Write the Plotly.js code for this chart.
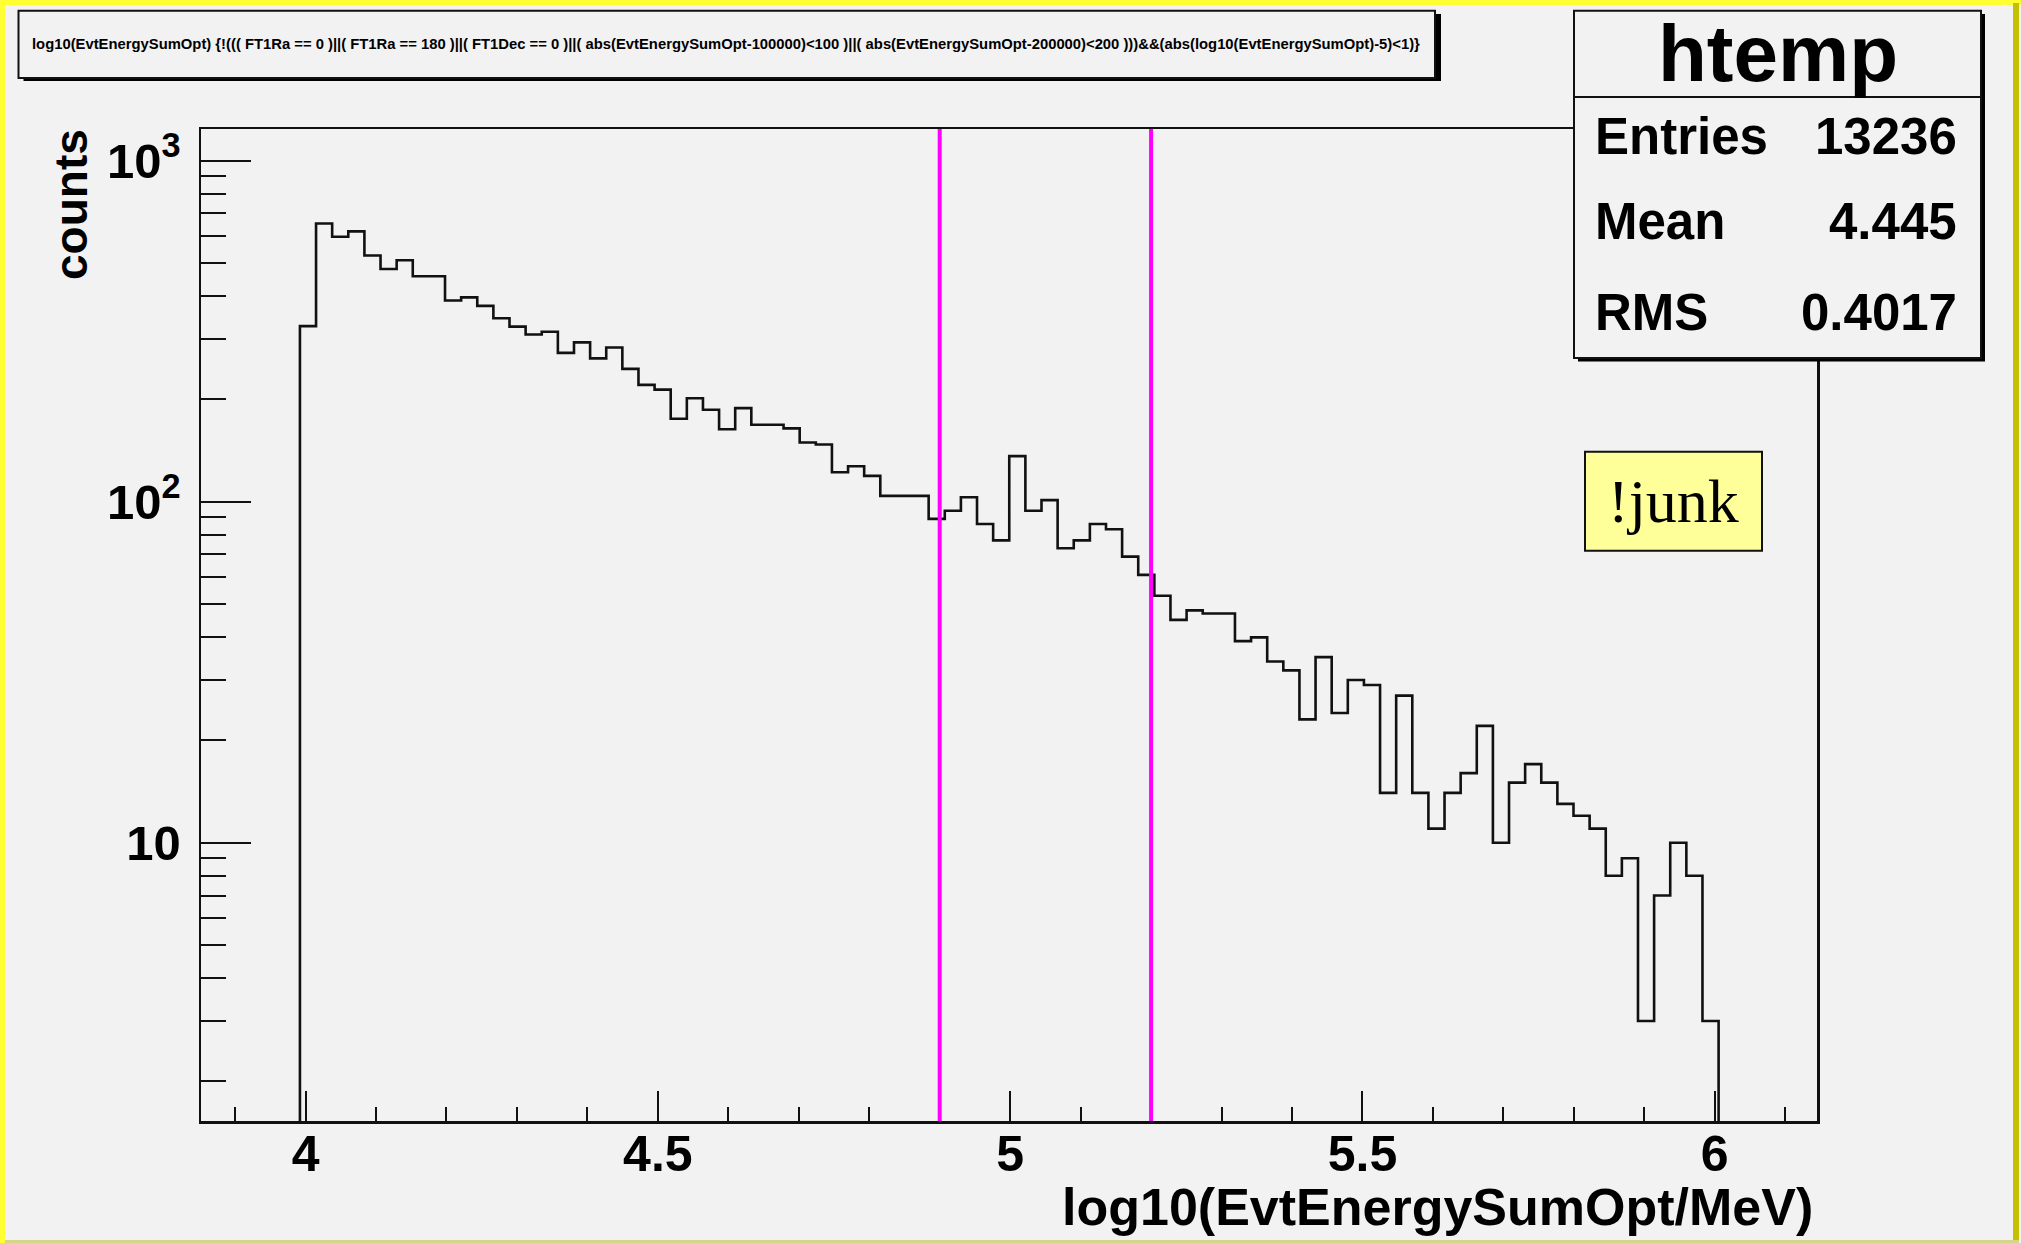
<!DOCTYPE html>
<html>
<head>
<meta charset="utf-8">
<script src="https://cdn.plot.ly/plotly-3.0.1.min.js"></script>
<style>
  html, body { margin: 0; padding: 0; background: #f2f2f2; }
  #chart { width: 2021px; height: 1243px; }
</style>
</head>
<body>
<div id="chart"></div>
<script>
// htemp binning: low edge of the first filled bin and the bin width
const binLowEdge = 3.992;
const binWidth = 0.02288;

// bin contents of htemp, in order of increasing log10(EvtEnergySumOpt/MeV)
const counts = [
  327, 654, 598, 620, 527, 481, 510, 458, 458, 389,
  397, 375, 345, 326, 309, 315, 273, 293, 263, 283,
  245, 220, 213, 175, 201, 186, 163, 188, 168, 168,
  164, 149, 147, 122, 127, 119, 104, 104, 104, 89,
  94, 103, 86, 77, 136, 94, 101, 73, 77, 86,
  83, 69, 61, 53, 45, 48, 47, 47, 39, 40,
  34, 32, 23, 35, 24, 30, 29, 14, 27, 14,
  11, 14, 16, 22, 10, 15, 17, 15, 13, 12,
  11, 8, 9, 3, 7, 10, 8, 3
];

// energy window markers (log10 MeV)
const cutValues = [4.9, 5.2];

// axis labels
const yTickVals = [10, 100, 1000];
const yTickText = ['10', '10<sup>2</sup>', '10<sup>3</sup>'];
const xTitle = 'log10(EvtEnergySumOpt/MeV)';
const yTitle = 'counts';

// stats box
const histName = 'htemp';
const statsLabels = ['Entries', 'Mean', 'RMS'];
const statsValues = ['13236', '4.445', '0.4017'];

const cutLabel = '!junk';
const drawTitle = 'log10(EvtEnergySumOpt) {!((( FT1Ra == 0 )||( FT1Ra == 180 )||( FT1Dec == 0 )||( abs(EvtEnergySumOpt-100000)&lt;100 )||( abs(EvtEnergySumOpt-200000)&lt;200 )))&&(abs(log10(EvtEnergySumOpt)-5)&lt;1)}';

// ---- canvas geometry ----
const W = 2021, H = 1243;
const M = { l: 201, r: 204, t: 129, b: 122 };
const PW = W - M.l - M.r, PH = H - M.t - M.b;
const px = x => (x - M.l) / PW;        // canvas pixel -> paper x
const py = y => 1 - (y - M.t) / PH;    // canvas pixel -> paper y

const xRange = [3.8516, 6.1451];
const yRange = [0.184, 3.0926];
const yFloor = Math.pow(10, yRange[0]);

// histogram outline as a step path
const hx = [binLowEdge], hy = [yFloor];
counts.forEach((c, i) => {
  const lo = binLowEdge + i * binWidth;
  hx.push(lo, lo + binWidth);
  hy.push(c, c);
});
hx.push(binLowEdge + counts.length * binWidth);
hy.push(yFloor);

// minor ticks of the log axis: 2..9 in every decade
const yMinor = [];
for (let d = 1; d <= 1000; d *= 10) {
  for (let k = 2; k <= 9; k++) yMinor.push(k * d);
}

const SANS = 'Liberation Sans, Arial, Helvetica, sans-serif';
const SERIF = 'Liberation Serif, Times New Roman, serif';
const BG = '#f2f2f2';
const INK = '#111111';

const traces = [{
  type: 'scatter',
  mode: 'lines',
  x: hx,
  y: hy,
  line: { color: INK, width: 2.6, shape: 'linear' },
  hoverinfo: 'skip'
}];

const shapes = [];
// yellow pad border (light top/left, dark right/bottom)
shapes.push({ type: 'rect', xref: 'paper', yref: 'paper', x0: px(0), x1: px(W), y0: py(0), y1: py(5), fillcolor: '#ffff33', line: { width: 0 } });
shapes.push({ type: 'rect', xref: 'paper', yref: 'paper', x0: px(0), x1: px(5), y0: py(0), y1: py(H), fillcolor: '#ffff33', line: { width: 0 } });
shapes.push({ type: 'rect', xref: 'paper', yref: 'paper', x0: px(2013), x1: px(2019), y0: py(3), y1: py(H), fillcolor: '#c4c000', line: { width: 0 } });
shapes.push({ type: 'rect', xref: 'paper', yref: 'paper', x0: px(5), x1: px(2019), y0: py(1240), y1: py(H), fillcolor: '#d6d68a', line: { width: 0 } });

// energy window markers
cutValues.forEach(v => shapes.push({
  type: 'line', xref: 'x', yref: 'paper', x0: v, x1: v, y0: 0, y1: 1,
  line: { color: '#ff00ff', width: 4 }
}));

// title box with shadow
shapes.push({ type: 'rect', xref: 'paper', yref: 'paper', x0: px(23.5), x1: px(1441), y0: py(14), y1: py(81), fillcolor: '#000', line: { width: 0 } });
shapes.push({ type: 'rect', xref: 'paper', yref: 'paper', x0: px(18.5), x1: px(1435), y0: py(10.7), y1: py(78), fillcolor: BG, line: { color: INK, width: 2 } });

// stats box with shadow
shapes.push({ type: 'rect', xref: 'paper', yref: 'paper', x0: px(1578), x1: px(1985), y0: py(14), y1: py(361.5), fillcolor: '#000', line: { width: 0 } });
shapes.push({ type: 'rect', xref: 'paper', yref: 'paper', x0: px(1574), x1: px(1981), y0: py(10.7), y1: py(358), fillcolor: BG, line: { color: INK, width: 2 } });
shapes.push({ type: 'line', xref: 'paper', yref: 'paper', x0: px(1574), x1: px(1981), y0: py(97), y1: py(97), line: { color: INK, width: 2 } });

// cut label box
shapes.push({ type: 'rect', xref: 'paper', yref: 'paper', x0: px(1585), x1: px(1762), y0: py(451.7), y1: py(550.7), fillcolor: '#ffff99', line: { color: INK, width: 2 } });

const annotations = [];
const ann = (x, y, text, font, extra) => Object.assign({
  xref: 'paper', yref: 'paper', x: px(x), y: py(y), text: text,
  showarrow: false, font: font, xanchor: 'center', yanchor: 'middle'
}, extra || {});

annotations.push(ann(726, 44, drawTitle, { family: SANS, size: 14.8, weight: 'bold', color: '#000' }));
annotations.push(ann(1777.5, 54, histName, { family: SANS, size: 80, weight: 'bold', color: '#000' }));
const rowY = [136, 221, 312];
statsLabels.forEach((lab, i) => {
  annotations.push(ann(1593, rowY[i], lab, { family: SANS, size: 51, weight: 'bold', color: '#000' }, { xanchor: 'left' }));
  annotations.push(ann(1959, rowY[i], statsValues[i], { family: SANS, size: 51, weight: 'bold', color: '#000' }, { xanchor: 'right' }));
});
annotations.push(ann(1673, 501, cutLabel, { family: SERIF, size: 62, color: '#000' }));
annotations.push(ann(1815, 1207, xTitle, { family: SANS, size: 52, weight: 'bold', color: '#000' }, { xanchor: 'right' }));
annotations.push(ann(71, 205, yTitle, { family: SANS, size: 46, weight: 'bold', color: '#000' }, { textangle: -90 }));

const layout = {
  width: W,
  height: H,
  margin: M,
  paper_bgcolor: BG,
  plot_bgcolor: BG,
  showlegend: false,
  xaxis: {
    type: 'linear',
    range: xRange,
    showgrid: false,
    zeroline: false,
    showline: true,
    mirror: true,
    linecolor: INK,
    linewidth: 2.5,
    ticks: 'inside',
    tick0: 0,
    dtick: 0.5,
    ticklen: 30,
    tickwidth: 2,
    tickcolor: INK,
    minor: { dtick: 0.1, tick0: 0, ticks: 'inside', ticklen: 14, tickwidth: 2, tickcolor: INK, showgrid: false },
    tickfont: { family: SANS, size: 50, weight: 'bold', color: '#000' },
    ticklabelstandoff: -13
  },
  yaxis: {
    type: 'log',
    range: yRange,
    showgrid: false,
    zeroline: false,
    showline: true,
    mirror: true,
    linecolor: INK,
    linewidth: 2.5,
    ticks: 'inside',
    tickmode: 'array',
    tickvals: yTickVals,
    ticktext: yTickText,
    ticklen: 50,
    tickwidth: 2,
    tickcolor: INK,
    minor: { tickmode: 'array', tickvals: yMinor, ticks: 'inside', ticklen: 25, tickwidth: 2, tickcolor: INK, showgrid: false },
    tickfont: { family: SANS, size: 49, weight: 'bold', color: '#000' },
    ticklabelstandoff: 8
  },
  shapes: shapes,
  annotations: annotations
};

Plotly.newPlot('chart', traces, layout, { displayModeBar: false, staticPlot: true });
</script>
</body>
</html>
